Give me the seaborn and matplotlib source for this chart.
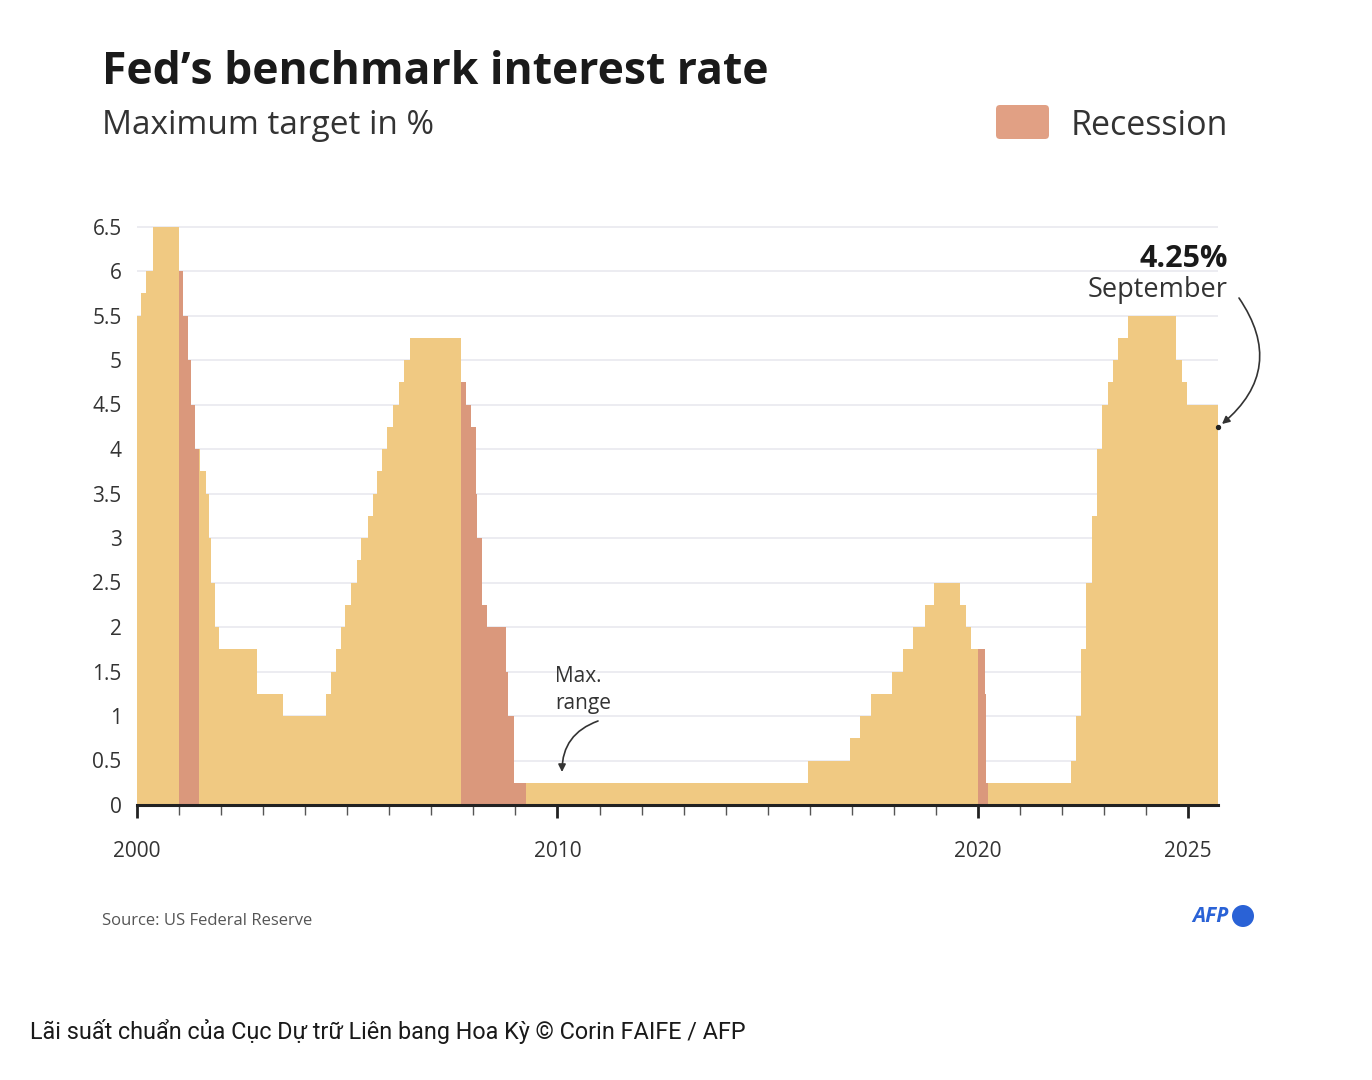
import numpy as np
import pandas as pd
import matplotlib
matplotlib.use("Agg")
import matplotlib.pyplot as plt
import matplotlib.dates as mdates
from matplotlib.patches import FancyBboxPatch, Circle
import seaborn as sns

# Fed funds maximum target (upper bound), change dates and new rate in %
change_dates = [
    "2000-01-01", "2000-02-02", "2000-03-21", "2000-05-16",
    "2001-01-03", "2001-01-31", "2001-03-20", "2001-04-18", "2001-05-15", "2001-06-27",
    "2001-08-21", "2001-09-17", "2001-10-02", "2001-11-06", "2001-12-11",
    "2002-11-06", "2003-06-25",
    "2004-06-30", "2004-08-10", "2004-09-21", "2004-11-10", "2004-12-14",
    "2005-02-02", "2005-03-22", "2005-05-03", "2005-06-30", "2005-08-09", "2005-09-20",
    "2005-11-01", "2005-12-13",
    "2006-01-31", "2006-03-28", "2006-05-10", "2006-06-29",
    "2007-09-18", "2007-10-31", "2007-12-11",
    "2008-01-22", "2008-01-30", "2008-03-18", "2008-04-30", "2008-10-08", "2008-10-29", "2008-12-16",
    "2015-12-16", "2016-12-14",
    "2017-03-15", "2017-06-14", "2017-12-13",
    "2018-03-21", "2018-06-13", "2018-09-26", "2018-12-19",
    "2019-07-31", "2019-09-18", "2019-10-30",
    "2020-03-03", "2020-03-15",
    "2022-03-16", "2022-05-04", "2022-06-15", "2022-07-27", "2022-09-21", "2022-11-02", "2022-12-14",
    "2023-02-01", "2023-03-22", "2023-05-03", "2023-07-26",
    "2024-09-18", "2024-11-07", "2024-12-18",
    "2025-09-17",
]
rates = [
    5.5, 5.75, 6.0, 6.5,
    6.0, 5.5, 5.0, 4.5, 4.0, 3.75,
    3.5, 3.0, 2.5, 2.0, 1.75,
    1.25, 1.0,
    1.25, 1.5, 1.75, 2.0, 2.25,
    2.5, 2.75, 3.0, 3.25, 3.5, 3.75,
    4.0, 4.25,
    4.5, 4.75, 5.0, 5.25,
    4.75, 4.5, 4.25,
    3.5, 3.0, 2.25, 2.0, 1.5, 1.0, 0.25,
    0.5, 0.75,
    1.0, 1.25, 1.5,
    1.75, 2.0, 2.25, 2.5,
    2.25, 2.0, 1.75,
    1.25, 0.25,
    0.5, 1.0, 1.75, 2.5, 3.25, 4.0, 4.5,
    4.75, 5.0, 5.25, 5.5,
    5.0, 4.75, 4.5,
    4.25,
]

# Recession shading as drawn in the graphic
recession_start = ["2001-01-03", "2007-09-18", "2020-01-01"]
recession_end = ["2001-06-22", "2009-03-30", "2020-03-27"]

y_ticks = [0, 0.5, 1, 1.5, 2, 2.5, 3, 3.5, 4, 4.5, 5, 5.5, 6, 6.5]
y_labels = ["0", "0.5", "1", "1.5", "2", "2.5", "3", "3.5", "4", "4.5", "5", "5.5", "6", "6.5"]
x_years = [2000, 2010, 2020, 2025]

yellow = "#F0C982"
salmon = "#DA987C"
W, H = 1372, 1080

sns.set_theme(style="white")
plt.rcParams["font.family"] = ["Open Sans", "DejaVu Sans"]

# Build the step series, adding recession boundaries so the shading is exact
s = pd.Series(rates, index=pd.to_datetime(change_dates))
bounds = pd.to_datetime(recession_start + recession_end)
s = s.reindex(s.index.union(bounds)).ffill()
df = pd.DataFrame({"date": s.index, "rate": s.values})
in_rec = np.zeros(len(df), dtype=bool)
for a, b in zip(pd.to_datetime(recession_start), pd.to_datetime(recession_end)):
    in_rec |= (df["date"] >= a).values & (df["date"] <= b).values

fig = plt.figure(figsize=(W / 100, H / 100), dpi=100)
ax_top = 805 - 6.55 * 89
ax = fig.add_axes([137 / W, 1 - 805 / H, (1218 - 137) / W, (805 - ax_top) / H])

# gridlines
for v in y_ticks[1:]:
    ax.axhline(v, color="#E9E9EF", lw=1.2, zorder=0)

ax.fill_between(df["date"], df["rate"], step="post", color=yellow, lw=0, zorder=1)
ax.fill_between(df["date"], df["rate"], where=in_rec, step="post", color=salmon, lw=0, zorder=2)

# end point dot
ax.scatter([df["date"].iloc[-1]], [df["rate"].iloc[-1]], s=8, color="#222222", zorder=4, clip_on=False)

ax.set_xlim(pd.Timestamp("2000-01-01"), df["date"].iloc[-1])
ax.set_ylim(0, 6.55)
ax.set_yticks(y_ticks)
ax.set_yticklabels(y_labels, fontsize=15, color="#333333")
ax.tick_params(axis="y", length=0, pad=11)

ax.xaxis.set_minor_locator(mdates.YearLocator())
ax.set_xticks([pd.Timestamp(f"{y}-01-01") for y in x_years])
ax.set_xticklabels([str(y) for y in x_years], fontsize=15, color="#333333")
ax.tick_params(axis="x", which="major", length=9, width=2, color="#222222", pad=17, direction="out")
ax.tick_params(axis="x", which="minor", length=7, width=1, color="#555555", direction="out")
ax.xaxis.set_tick_params(bottom=True, which="both")

for side in ["top", "right", "left"]:
    ax.spines[side].set_visible(False)
ax.spines["bottom"].set_color("#222222")
ax.spines["bottom"].set_linewidth(2.2)
ax.spines["bottom"].set_zorder(5)


def fx(px):
    return px / W


def fy(py):
    return 1 - py / H


# inches transform helpers for round shapes
def inch(px, py):
    return px / 100, (H - py) / 100


# Titles
fig.text(fx(102), fy(72), "Fed\u2019s benchmark interest rate", fontsize=32, fontweight="bold",
         color="#1a1a1a", va="center", ha="left")
fig.text(fx(102), fy(126), "Maximum target in %", fontsize=24, color="#333333", va="center", ha="left")

# Legend
fig.add_artist(FancyBboxPatch(inch(996, 139), 0.53, 0.34,
                              boxstyle="round,pad=0,rounding_size=0.04", transform=fig.dpi_scale_trans,
                              color="#E1A084", lw=0))
fig.text(fx(1071), fy(126), "Recession", fontsize=24.5, color="#333333", va="center", ha="left")

# Annotations
fig.text(fx(1228), fy(259), "4.25%", fontsize=22, fontweight="bold", color="#1a1a1a",
         va="center", ha="right")
fig.text(fx(1228), fy(290), "September", fontsize=19.5, color="#333333", va="center", ha="right")
ax.annotate("", xy=(fx(1222), fy(424)), xycoords="figure fraction",
            xytext=(fx(1239), fy(298)), textcoords="figure fraction",
            arrowprops=dict(arrowstyle="-|>", color="#333333", lw=1.2, mutation_scale=11,
                            connectionstyle="arc3,rad=-0.45", shrinkA=0, shrinkB=0))

fig.text(fx(555), fy(676), "Max.", fontsize=15, color="#333333", va="center", ha="left")
fig.text(fx(555), fy(704), "range", fontsize=15, color="#333333", va="center", ha="left")
ax.annotate("", xy=(fx(562), fy(772)), xycoords="figure fraction",
            xytext=(fx(598), fy(721)), textcoords="figure fraction",
            arrowprops=dict(arrowstyle="-|>", color="#333333", lw=1.2, mutation_scale=11,
                            connectionstyle="arc3,rad=0.35", shrinkA=0, shrinkB=0))

# Source and logo
fig.text(fx(102), fy(921), "Source: US Federal Reserve", fontsize=12, color="#555555",
         va="center", ha="left")
fig.text(fx(1229), fy(916), "AFP", fontsize=15, fontweight="bold", fontstyle="italic",
         color="#2A62D6", va="center", ha="right")
fig.add_artist(Circle(inch(1243, 916), 0.11, transform=fig.dpi_scale_trans, color="#2A62D6", lw=0))

# Caption
fig.text(fx(30), fy(1032), "L\u00e3i su\u1ea5t chu\u1ea9n c\u1ee7a C\u1ee5c D\u1ef1 tr\u1eef Li\u00ean bang Hoa K\u1ef3 \u00a9 Corin FAIFE / AFP",
         fontsize=16.8, color="#1a1a1a", va="center", ha="left", family=["Roboto", "DejaVu Sans"])

fig.savefig("out.png", dpi=100, facecolor="white")
